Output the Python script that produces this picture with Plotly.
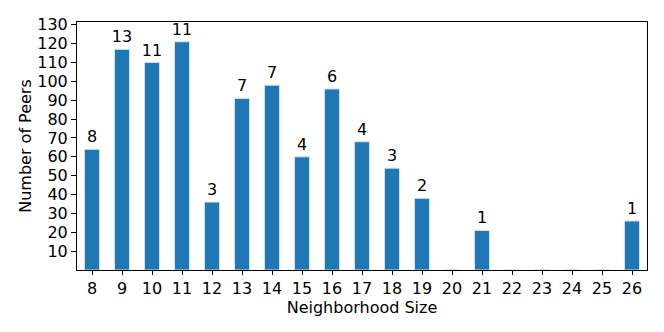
import plotly.graph_objects as go

# neighborhood sizes and peer counts
sizes = list(range(8, 27))
peers = [64, 117, 110, 121, 36, 91, 98, 60, 96, 68, 54, 38, 0, 21, 0, 0, 0, 0, 26]
bar_labels = ["8", "13", "11", "11", "3", "7", "7", "4", "6", "4", "3", "2",
              "", "1", "", "", "", "", "1"]
y_ticks = list(range(10, 131, 10))

FONT = "DejaVu Sans"

fig = go.Figure(go.Bar(
    x=sizes,
    y=peers,
    width=0.5,
    marker=dict(color="#1f77b4", line=dict(color="#cfe3f3", width=1)),
    text=bar_labels,
    textposition="outside",
    constraintext="none",
    textfont=dict(family=FONT, size=16, color="black"),
    cliponaxis=False,
))

fig.update_layout(
    width=664, height=332,
    margin=dict(l=77, r=17, t=22, b=62, autoexpand=False),
    plot_bgcolor="white", paper_bgcolor="white",
    font=dict(family=FONT, size=16, color="black"),
    showlegend=False,
)
fig.update_xaxes(
    range=[7.5, 26.5], tickmode="array", tickvals=sizes,
    tickfont=dict(size=16),
    ticks="outside", ticklen=4, tickcolor="black",
    showline=True, linecolor="black", linewidth=1, mirror=True,
    showgrid=False, zeroline=False, automargin=True,
    title=dict(text="Neighborhood Size", font=dict(size=16), standoff=3),
)
fig.update_yaxes(
    range=[0, 131.5], tickmode="array", tickvals=y_ticks,
    tickfont=dict(size=16),
    ticks="outside", ticklen=5, tickcolor="black",
    showline=True, linecolor="black", linewidth=1, mirror=True,
    showgrid=False, zeroline=False, automargin=True,
    title=dict(text="Number of Peers", font=dict(size=16), standoff=1),
)

# the page's default body margin would push the figure 8px off
fig.write_html("out.html", config={"displayModeBar": False},
               post_script="document.body.style.margin='0';")
